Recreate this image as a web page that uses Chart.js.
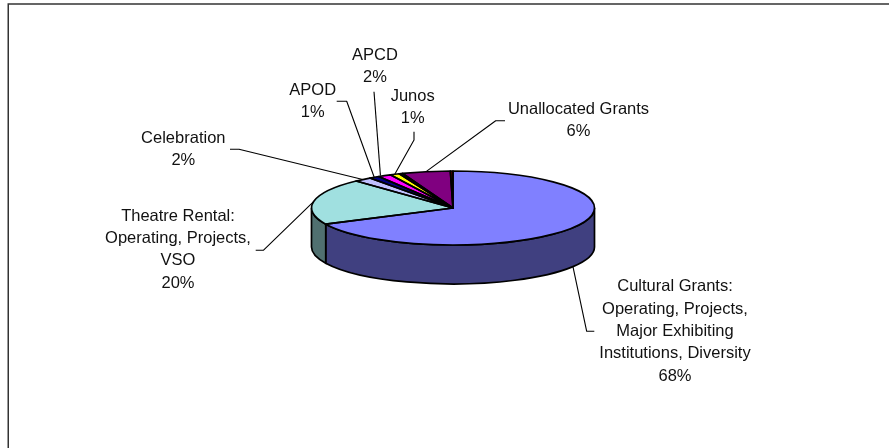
<!DOCTYPE html>
<html>
<head>
<meta charset="utf-8">
<title>Grants pie</title>
<script src="https://cdn.jsdelivr.net/npm/chart.js@4"></script>
<style>
    html, body { margin: 0; padding: 0; background: #fff; overflow: hidden; }
    canvas { display: block; }
</style>
</head>
<body>
<canvas id="pieChart" width="889" height="448"></canvas>
<script>
var slice_names = [
    ["Cultural Grants:", "Operating, Projects,", "Major Exhibiting", "Institutions, Diversity"],
    ["Theatre Rental:", "Operating, Projects,", "VSO"],
    ["Celebration"],
    ["APOD"],
    ["APCD"],
    ["Junos"],
    null,
    ["Unallocated Grants"],
    null
];
var slice_values = [67.8, 20.2, 2.0, 1.2, 1.5, 1.1, 0.4, 5.5, 0.3];
var slice_colors = ['#8080FF', '#A0E0E0', '#C0C0FF', '#000080', '#FF00FF', '#FFFF00', '#008080', '#800080', '#800000'];
var wall_colors = ['#404080', '#507070', '#606080', '#000040', '#800080', '#808000', '#004040', '#400040', '#400000'];

// where each label sits: text centre, first line y, and the elbow of its leader line
var label_layout = [
    { x: 675, y: 286.7, elbow: [586.7, 331.3], tail: [594.3, 331.3] },
    { x: 178, y: 216, elbow: [263.3, 250.3], tail: [255.7, 250.3] },
    { x: 183.3, y: 138.3, elbow: [239, 149.3], tail: [230, 149.3] },
    { x: 312.7, y: 90, elbow: [346.7, 101.3], tail: [336.7, 101.3] },
    { x: 375, y: 55.5, elbow: [374, 91.7], tail: null, nudge: -4 },
    { x: 412.7, y: 96, elbow: [414, 140], tail: [414, 131.7] },
    null,
    { x: 578.5, y: 109.3, elbow: [495.7, 120.7], tail: [505, 120.7] },
    null
];

var FLATTEN = 37 / 141.5;
var DEPTH = 39;
var LINE_HEIGHT = 22.4;

function outline_slice(ctx, arc, ry) {
    ctx.beginPath();
    ctx.moveTo(arc.x, arc.y);
    ctx.ellipse(arc.x, arc.y, arc.outerRadius, ry, 0, arc.startAngle, arc.endAngle);
    ctx.closePath();
}

var pie3d = {
    id: 'pie3d',
    beforeDraw: function (chart) {
        var ctx = chart.ctx;
        ctx.save();
        ctx.strokeStyle = '#333';
        ctx.lineWidth = 1.5;
        ctx.beginPath();
        ctx.moveTo(8.25, 448);
        ctx.lineTo(8.25, 4);
        ctx.lineTo(889, 4);
        ctx.stroke();
        ctx.restore();
    },
    beforeDatasetsDraw: function (chart) {
        var ctx = chart.ctx;
        var arcs = chart.getDatasetMeta(0).data;
        ctx.save();
        ctx.strokeStyle = '#000';
        ctx.lineWidth = 1.7;
        // side walls, only the front half of the pie shows
        arcs.forEach(function (arc, i) {
            var a0 = Math.max(arc.startAngle, 0);
            var a1 = Math.min(arc.endAngle, Math.PI);
            if (a1 <= a0) return;
            var ry = arc.outerRadius * FLATTEN;
            ctx.beginPath();
            ctx.ellipse(arc.x, arc.y, arc.outerRadius, ry, 0, a0, a1);
            ctx.ellipse(arc.x, arc.y + DEPTH, arc.outerRadius, ry, 0, a1, a0, true);
            ctx.closePath();
            ctx.fillStyle = wall_colors[i];
            ctx.fill();
            ctx.stroke();
        });
        ctx.restore();

        // flatten the library's arcs into the top of the disc
        var c = arcs[0];
        ctx.save();
        ctx.translate(c.x, c.y);
        ctx.scale(1, FLATTEN);
        ctx.translate(-c.x, -c.y);
    },
    afterDatasetsDraw: function (chart) {
        var ctx = chart.ctx;
        ctx.restore();

        var arcs = chart.getDatasetMeta(0).data;
        ctx.save();
        ctx.strokeStyle = '#000';
        ctx.lineWidth = 1.7;
        ctx.lineJoin = 'round';
        arcs.forEach(function (arc) {
            outline_slice(ctx, arc, arc.outerRadius * FLATTEN);
            ctx.stroke();
        });

        // leader lines and labels
        ctx.lineWidth = 1.1;
        ctx.font = '16.5px "Liberation Sans"';
        ctx.textAlign = 'center';
        ctx.textBaseline = 'middle';
        ctx.fillStyle = '#111';
        arcs.forEach(function (arc, i) {
            var pos = label_layout[i];
            if (!pos) return;
            var mid = (arc.startAngle + arc.endAngle) / 2;
            var ax = arc.x + arc.outerRadius * Math.cos(mid) + (pos.nudge || 0);
            var ay = arc.y + arc.outerRadius * FLATTEN * Math.sin(mid);
            if (Math.sin(mid) > 0.3) ay += DEPTH;

            ctx.beginPath();
            if (pos.tail) {
                ctx.moveTo(pos.tail[0], pos.tail[1]);
                ctx.lineTo(pos.elbow[0], pos.elbow[1]);
            } else {
                ctx.moveTo(pos.elbow[0], pos.elbow[1]);
            }
            ctx.lineTo(ax, ay);
            ctx.stroke();

            var lines = slice_names[i].concat([Math.round(slice_values[i]) + '%']);
            lines.forEach(function (line, n) {
                ctx.fillText(line, pos.x, pos.y + n * LINE_HEIGHT);
            });
        });
        ctx.restore();
    }
};

new Chart(document.getElementById('pieChart').getContext('2d'), {
    type: 'pie',
    data: {
        labels: slice_names.map(function (n) { return n ? n[0] : ''; }),
        datasets: [{
            data: slice_values,
            backgroundColor: slice_colors,
            borderWidth: 0,
            radius: 141.5
        }]
    },
    options: {
        responsive: false,
        animation: false,
        events: [],
        layout: { padding: { left: 17, bottom: 32 } },
        plugins: {
            legend: { display: false },
            tooltip: { enabled: false }
        }
    },
    plugins: [pie3d]
});
</script>
</body>
</html>
